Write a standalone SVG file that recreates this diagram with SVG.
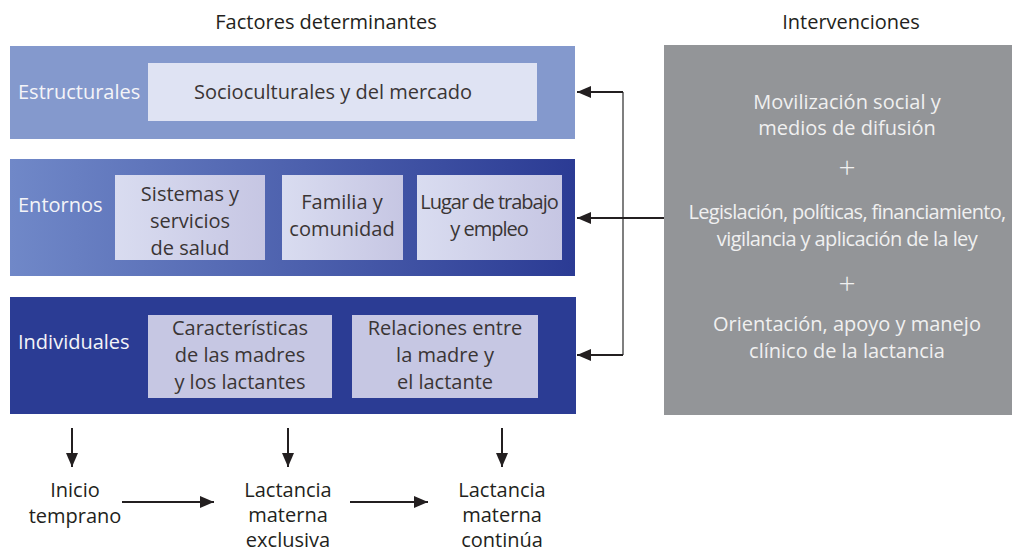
<svg xmlns="http://www.w3.org/2000/svg" width="1012" height="552" viewBox="0 0 1012 552">
<defs>
<linearGradient id="gEnt" x1="0" y1="0" x2="1" y2="0">
<stop offset="0" stop-color="#7088c8"/><stop offset="1" stop-color="#2b3b94"/>
</linearGradient>
<linearGradient id="gIn" x1="0" y1="0" x2="1" y2="0">
<stop offset="0" stop-color="#d9dcf0"/><stop offset="1" stop-color="#c6c6e3"/>
</linearGradient>
<marker id="ah" viewBox="0 0 14 12" refX="14" refY="6" markerWidth="14" markerHeight="12" markerUnits="userSpaceOnUse" orient="auto">
<path d="M0,0 L14,6 L0,12 Z" fill="#231f20"/>
</marker>
<style>
text{font-family:"Open Sans","Noto Sans","Liberation Sans",sans-serif;font-size:20px}
.t{fill:#231f20;text-anchor:middle}
.w{fill:#f4f4f8}
.c{fill:#3a3535;text-anchor:middle}
.g{fill:#f0f0f0;text-anchor:middle}
.ln{stroke:#231f20;stroke-width:2;fill:none;marker-end:url(#ah)}
</style>
</defs>
<rect width="1012" height="552" fill="#ffffff"/>
<g id="titles">
<text class="t" x="326" y="29">Factores determinantes</text>
<text class="t" x="851" y="29">Intervenciones</text>
</g>
<g id="estructurales">
<rect x="10" y="46" width="565" height="93" fill="#8499cd"/>
<text class="w" x="18" y="99">Estructurales</text>
<rect x="148" y="63" width="389" height="58" fill="#dfe3f3"/>
<text class="c" x="333" y="99">Socioculturales y del mercado</text>
</g>
<g id="entornos">
<rect x="10" y="159" width="565" height="117" fill="url(#gEnt)"/>
<text class="w" x="18" y="212">Entornos</text>
<rect x="115" y="175" width="150" height="85" fill="url(#gIn)"/>
<text class="c" x="190" y="201">Sistemas y</text>
<text class="c" x="190" y="228">servicios</text>
<text class="c" x="190" y="255">de salud</text>
<rect x="282" y="175" width="121" height="85" fill="url(#gIn)"/>
<text class="c" x="342" y="209">Familia y</text>
<text class="c" x="342" y="236">comunidad</text>
<rect x="417" y="175" width="145" height="85" fill="url(#gIn)"/>
<text class="c" x="489" y="209" letter-spacing="-1">Lugar de trabajo</text>
<text class="c" x="489" y="236" letter-spacing="-1">y empleo</text>
</g>
<g id="individuales">
<rect x="10" y="297" width="566" height="117" fill="#2b3c94"/>
<text class="w" x="18" y="349">Individuales</text>
<rect x="148" y="315" width="184" height="83" fill="#c6c7e3"/>
<text class="c" x="240" y="335">Características</text>
<text class="c" x="240" y="362">de las madres</text>
<text class="c" x="240" y="389">y los lactantes</text>
<rect x="352" y="315" width="186" height="83" fill="#c6c7e3"/>
<text class="c" x="445" y="335">Relaciones entre</text>
<text class="c" x="445" y="362">la madre y</text>
<text class="c" x="445" y="389">el lactante</text>
</g>
<g id="intervenciones">
<rect x="664" y="45" width="348" height="370" fill="#939598"/>
<text class="g" x="847" y="109">Movilización social y</text>
<text class="g" x="847" y="135">medios de difusión</text>
<text class="g" x="847" y="178" style="font-size:30px;font-weight:300">+</text>
<text class="g" x="847" y="219" letter-spacing="-0.7">Legislación, políticas, financiamiento,</text>
<text class="g" x="847" y="246" letter-spacing="-0.6">vigilancia y aplicación de la ley</text>
<text class="g" x="847" y="294" style="font-size:30px;font-weight:300">+</text>
<text class="g" x="847" y="331">Orientación, apoyo y manejo</text>
<text class="g" x="847" y="358">clínico de la lactancia</text>
</g>
<g id="resultados">
<text class="t" x="75" y="497">Inicio</text>
<text class="t" x="75" y="523">temprano</text>
<text class="t" x="288" y="497">Lactancia</text>
<text class="t" x="288" y="522">materna</text>
<text class="t" x="288" y="547">exclusiva</text>
<text class="t" x="502" y="497">Lactancia</text>
<text class="t" x="502" y="522">materna</text>
<text class="t" x="502" y="547">continúa</text>
</g>
<g id="connectors">
<line x1="623" y1="92" x2="623" y2="355" stroke="#555" stroke-width="1.5"/>
<line class="ln" x1="623" y1="92" x2="577" y2="92"/>
<line class="ln" x1="664" y1="218" x2="577" y2="218"/>
<line class="ln" x1="623" y1="355" x2="577" y2="355"/>
<line class="ln" x1="72" y1="428" x2="72" y2="467"/>
<line class="ln" x1="288" y1="428" x2="288" y2="467"/>
<line class="ln" x1="502" y1="428" x2="502" y2="467"/>
<line class="ln" x1="122" y1="502" x2="214" y2="502"/>
<line class="ln" x1="350" y1="502" x2="428" y2="502"/>
</g>
</svg>
